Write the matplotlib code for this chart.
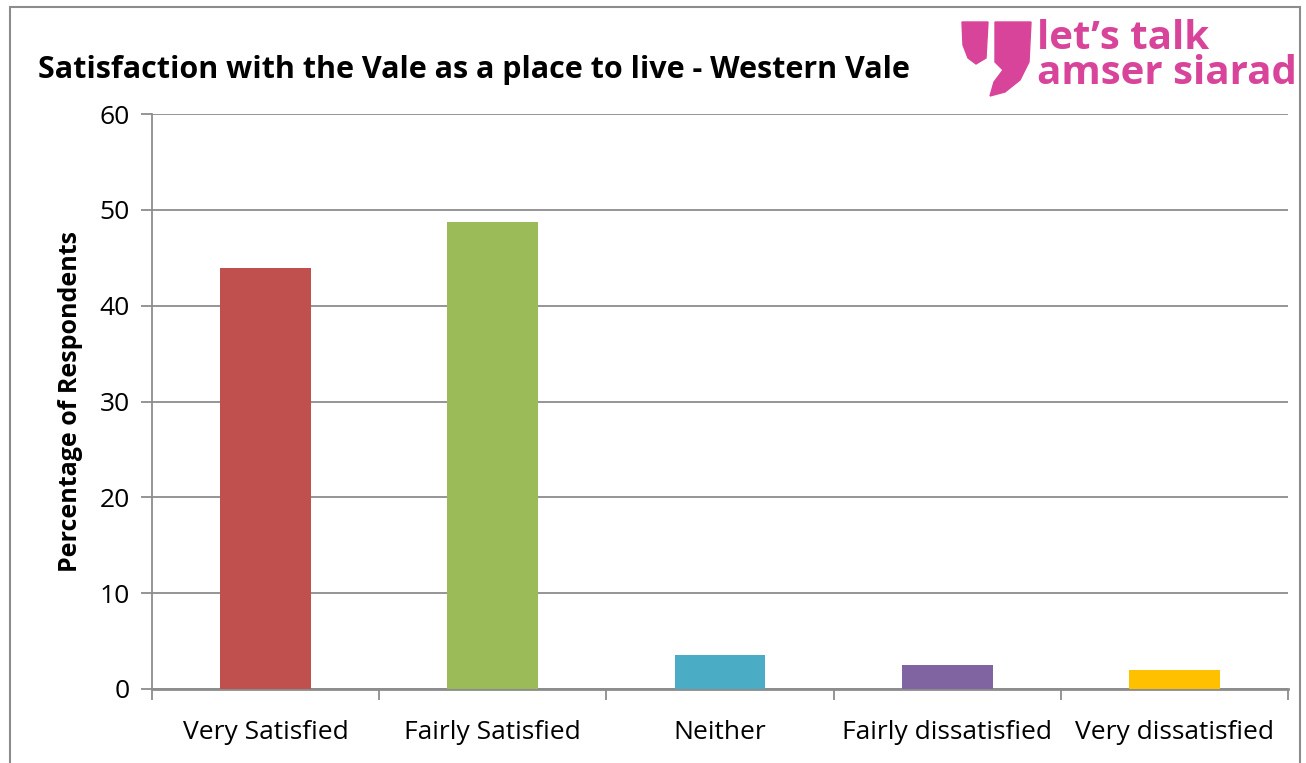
import matplotlib
matplotlib.use("Agg")
import matplotlib.pyplot as plt
from matplotlib.patches import Rectangle, Polygon

categories = ["Very Satisfied", "Fairly Satisfied", "Neither", "Fairly dissatisfied", "Very dissatisfied"]
values = [43.9, 48.7, 3.5, 2.5, 2.0]
colors = ["#c0504d", "#9bbb59", "#4bacc6", "#8064a2", "#ffc000"]
title = "Satisfaction with the Vale as a place to live - Western Vale"
ylabel = "Percentage of Respondents"
yticks = [0, 10, 20, 30, 40, 50, 60]

plt.rcParams['font.family'] = ['Open Sans', 'DejaVu Sans']

fig = plt.figure(figsize=(13.06, 7.63), dpi=100)
ax = fig.add_axes([152/1306, 1-689/763, (1288-152)/1306, (689-114)/763])

x = list(range(len(categories)))
ax.bar(x, values, width=0.4, color=colors, zorder=3)
ax.set_xlim(-0.5, len(categories)-0.5)
ax.set_ylim(0, 60)
ax.set_yticks(yticks)
ax.set_yticklabels([str(t) for t in yticks], fontsize=19)
ax.yaxis.grid(True, color="#8c8c8c", linewidth=1.3, zorder=0)
ax.set_xticks(x)
ax.set_xticklabels(categories, fontsize=19)
ax.set_xticks([i + 0.5 for i in range(-1, len(categories))], minor=True)
ax.tick_params(axis='x', which='major', length=0, pad=22)
ax.tick_params(axis='x', which='minor', length=8, width=1.3, color="#8c8c8c", direction='out')
ax.tick_params(axis='y', length=8, width=1.3, color="#8c8c8c", pad=8)
for s in ['top', 'right']:
    ax.spines[s].set_visible(False)
ax.spines['left'].set_color("#8c8c8c")
ax.spines['bottom'].set_color("#8c8c8c")
ax.spines['left'].set_linewidth(1.3)
ax.spines['bottom'].set_linewidth(2)
ax.set_ylabel(ylabel, fontsize=18, fontweight='bold', labelpad=12)

fig.text(38/1306, 1-70/763, title, fontsize=22, fontweight='bold', va='center', ha='left')

# outer frame
fig.patches.append(Rectangle((10/1306, -0.1), (1300-10)/1306, 1-7/763+0.1, transform=fig.transFigure,
                             fill=False, edgecolor="#8c8c8c", linewidth=1.5))

# logo
pink = "#d9449b"
lx = fig.add_axes([955/1306, 1-105/763, (1306-955)/1306, 90/763])
lx.set_xlim(955, 1306)
lx.set_ylim(105, 15)
lx.axis('off')
lx.add_patch(Polygon([(962, 22), (988, 22), (986, 58), (976, 64), (968, 58), (963, 45)], closed=True, color=pink))
lx.add_patch(Polygon([(995, 22), (1031, 22), (1029, 62), (1020, 80), (1005, 92), (990, 96), (994, 82), (1003, 70), (995, 62)], closed=True, color=pink))
lx.text(1037, 19, "let\u2019s talk\namser siarad", fontsize=29, fontweight='bold', color=pink,
        va='top', ha='left', linespacing=0.86)

fig.savefig("out.png", dpi=100)
